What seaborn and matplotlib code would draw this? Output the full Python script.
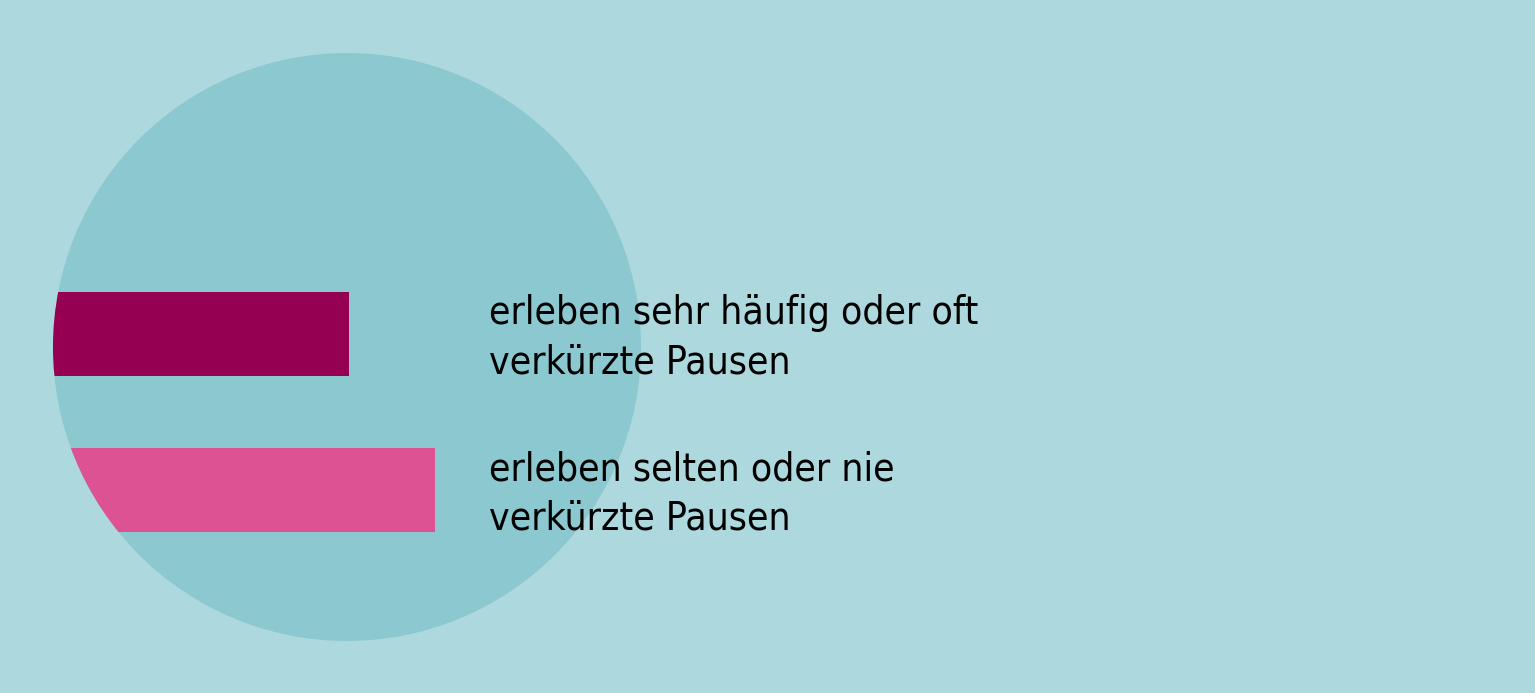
import matplotlib
matplotlib.use("Agg")
import matplotlib.pyplot as plt
from matplotlib.patches import Ellipse
import pandas as pd
import seaborn as sns

# Data
categories = ["erleben sehr häufig oder oft\nverkürzte Pausen",
              "erleben selten oder nie\nverkürzte Pausen"]
values = [45, 58]
bar_colors = ["#960052", "#DC5292"]

bg = "#ADD8DE"
circle_color = "#8BC8D0"

sns.set_theme(style="white")
plt.rcParams['font.family'] = ['DejaVu Sans']
plt.rcParams['font.stretch'] = 'condensed'

W, H = 1535, 693
fig = plt.figure(figsize=(W / 100, H / 100), dpi=100, facecolor=bg)
ax = fig.add_axes([0, 0, 1, 1])
ax.set_facecolor(bg)

df = pd.DataFrame({"label": categories, "value": values})
sns.barplot(data=df, x="value", y="label", hue="label", palette=bar_colors,
            orient="h", width=0.54, saturation=1, legend=False, ax=ax, zorder=2)

# pixel scale: 1 % -> px, 1 category step -> px
px_per_x = 296 / values[0]
px_per_y = 156
x0_px, y0_px = 53, 334
ax.set_xlim(-x0_px / px_per_x, (W - x0_px) / px_per_x)
ax.set_ylim((H - y0_px) / px_per_y, -y0_px / px_per_y)

# background circle
circ = Ellipse(((347 - x0_px) / px_per_x, (347 - y0_px) / px_per_y),
               width=588 / px_per_x, height=588 / px_per_y,
               facecolor=circle_color, edgecolor="none", zorder=1)
ax.add_patch(circ)
for p in ax.patches:
    if p is not circ:
        p.set_clip_path(circ)
        p.set_edgecolor("none")

# labels to the right
for i, lab in enumerate(categories):
    ax.text((489 - x0_px) / px_per_x, i + 0.025, lab, fontsize=28, color="black",
            fontstretch="condensed", va="center", ha="left",
            linespacing=1.38, zorder=3)

ax.set_axis_off()
fig.savefig("out.png", dpi=100, facecolor=bg)
